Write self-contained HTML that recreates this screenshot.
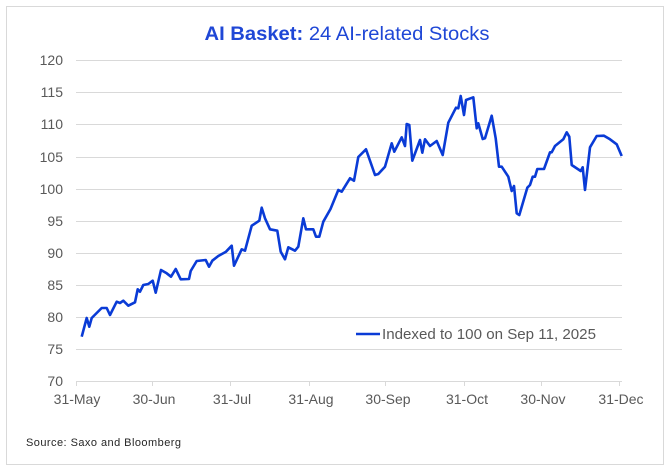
<!DOCTYPE html>
<html><head><meta charset="utf-8"><style>
html,body{margin:0;padding:0;background:#fff}
svg{display:block}
text{font-family:"Liberation Sans",sans-serif}
</style></head><body>
<svg width="667" height="469" viewBox="0 0 667 469">
<rect x="6.5" y="6.5" width="657" height="458" fill="#fff" stroke="#d9d9d9"/>
<text x="347" y="40" text-anchor="middle" font-size="19" fill="#1f47d6" textLength="285" lengthAdjust="spacingAndGlyphs"><tspan font-weight="bold">AI Basket:</tspan> 24 AI-related Stocks</text>
<g stroke="#d9d9d9" stroke-width="1">
<line x1="76" y1="60.5" x2="622" y2="60.5"/>
<line x1="76" y1="92.5" x2="622" y2="92.5"/>
<line x1="76" y1="124.5" x2="622" y2="124.5"/>
<line x1="76" y1="157.5" x2="622" y2="157.5"/>
<line x1="76" y1="189.5" x2="622" y2="189.5"/>
<line x1="76" y1="221.5" x2="622" y2="221.5"/>
<line x1="76" y1="253.5" x2="622" y2="253.5"/>
<line x1="76" y1="285.5" x2="622" y2="285.5"/>
<line x1="76" y1="317.5" x2="622" y2="317.5"/>
<line x1="76" y1="349.5" x2="622" y2="349.5"/>
<line x1="76" y1="381.5" x2="622" y2="381.5"/>
<line x1="76.5" y1="381" x2="76.5" y2="386"/>
<line x1="152.5" y1="381" x2="152.5" y2="386"/>
<line x1="230.5" y1="381" x2="230.5" y2="386"/>
<line x1="309.5" y1="381" x2="309.5" y2="386"/>
<line x1="385.5" y1="381" x2="385.5" y2="386"/>
<line x1="464.5" y1="381" x2="464.5" y2="386"/>
<line x1="541.5" y1="381" x2="541.5" y2="386"/>
<line x1="619.5" y1="381" x2="619.5" y2="386"/>
</g>
<g font-size="14" fill="#595959" text-anchor="end">
<text x="63" y="65">120</text><text x="63" y="97">115</text><text x="63" y="129">110</text>
<text x="63" y="162">105</text><text x="63" y="194">100</text><text x="63" y="226">95</text>
<text x="63" y="258">90</text><text x="63" y="290">85</text><text x="63" y="322">80</text>
<text x="63" y="354">75</text><text x="63" y="386">70</text>
</g>
<g font-size="14" fill="#595959" text-anchor="middle">
<text x="77" y="404">31-May</text><text x="154" y="404">30-Jun</text><text x="232" y="404">31-Jul</text>
<text x="311" y="404">31-Aug</text><text x="388" y="404">30-Sep</text><text x="467" y="404">31-Oct</text>
<text x="543" y="404">30-Nov</text><text x="621" y="404">31-Dec</text>
</g>
<polyline fill="none" stroke="#0a3bd6" stroke-width="2.6" stroke-linejoin="round" points="81.7,336.7 86.7,318 89.3,326.7 91.7,318 101.7,308 106.7,308 110,315 116.7,301.7 120,303 123.3,300.7 128.3,305.7 135,302.3 137.7,289.3 140,291.7 143.3,285 148.3,284 152.7,280.7 155.7,292.7 161,270 166.7,273.3 171,276.7 175.7,269 180.7,279.3 189,279 190.7,271 196.7,261 205.7,260 209,266.7 212.3,260.7 218.3,256 226,251.7 231.7,245.7 234,265.7 241.7,249.3 245,250.7 251.7,225.7 259.3,220.7 261.7,207.7 265,218.3 270,229.3 277.3,230.7 280.7,251.7 285,259.3 288.3,247.3 295,250.7 298.3,246.7 303.3,218.3 306,229.3 313.3,229.3 316,236.7 319.3,236.7 323.3,221.7 330.5,209 338.3,190 341.7,191.7 350,178.3 354,180.7 358.3,157 366,149.3 375,175 378.3,174 385,166.7 391.7,143.3 394.3,151.7 401.7,137.3 405,146 406.7,124 409.3,125 412.3,160.7 420,140 422.3,152.7 425,139.3 430,146 436.7,141 442.7,155 448.3,122.7 456,107.7 458.3,108.3 460.7,96 464,115 466,100 473.3,97.3 476.7,128.3 478.3,123.3 482.7,139 485,138.3 491.7,115.7 495.7,138.3 499,166.7 501.7,166.7 508.3,176.7 511.7,191 514,186 516.7,213.3 519.3,215 527.3,187.7 530,185 532.7,176.7 535,176.7 537.3,169 544,169 550,152.3 551.7,152.3 555,146 563.3,139.3 566.7,132.3 569.3,136.7 571.7,165 580.7,171 582.7,167.3 585,190 590,147.3 596.7,136 604,135.7 610,139.3 616.7,144.3 621.7,156"/>
<line x1="356" y1="334" x2="380" y2="334" stroke="#0a3bd6" stroke-width="2.6"/>
<text x="382" y="339" font-size="14.5" fill="#595959" textLength="214" lengthAdjust="spacingAndGlyphs">Indexed to 100 on Sep 11, 2025</text>
<text x="26" y="446" font-size="11" fill="#262626" textLength="155">Source: Saxo and Bloomberg</text>
</svg>
</body></html>
